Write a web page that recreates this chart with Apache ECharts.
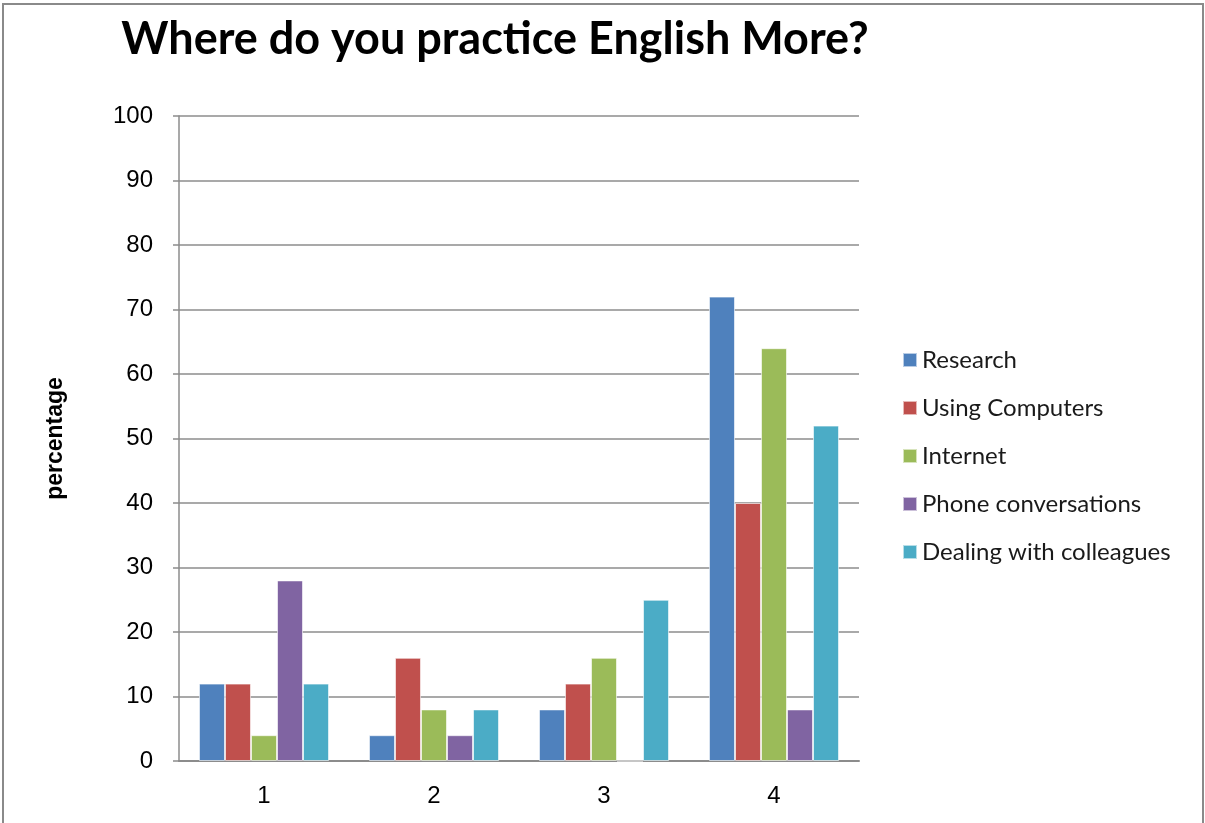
<!DOCTYPE html>
<html>
<head>
<meta charset="utf-8">
<style>
  html, body { margin: 0; padding: 0; background: #fff; }
  #chart { width: 1205px; height: 823px; }
</style>
<script src="https://cdn.jsdelivr.net/npm/echarts@6/dist/echarts.min.js"></script>
</head>
<body>
<div id="chart"></div>
<script>
// Survey groups and the share of answers (%) for each practice setting
const categories = ['1', '2', '3', '4'];
const research = [12, 4, 8, 72];
const usingComputers = [12, 16, 12, 40];
const internet = [4, 8, 16, 64];
const phoneConversations = [28, 4, 0, 8];
const dealingWithColleagues = [12, 8, 25, 52];
const yTicks = [0, 10, 20, 30, 40, 50, 60, 70, 80, 90, 100];

const seriesDefs = [
  { name: 'Research', data: research, color: '#4F81BD' },
  { name: 'Using Computers', data: usingComputers, color: '#C0504D' },
  { name: 'Internet', data: internet, color: '#9BBB59' },
  { name: 'Phone conversations', data: phoneConversations, color: '#8064A2' },
  { name: 'Dealing with colleagues', data: dealingWithColleagues, color: '#4BACC6' }
];

const chart = echarts.init(document.getElementById('chart'), null, { renderer: 'canvas' });

chart.setOption({
  backgroundColor: '#ffffff',
  animation: false,
  title: {
    text: 'Where do you practice English More?',
    left: 490,
    textAlign: 'center',
    top: 12,
    textStyle: {
      fontFamily: 'Lato',
      fontWeight: 'bold',
      fontSize: 45,
      color: '#000'
    }
  },
  graphic: [
    {
      type: 'rect',
      silent: true,
      shape: { x: 3, y: 4, width: 1200, height: 830 },
      style: { fill: 'none', stroke: '#8a8a8a', lineWidth: 2 }
    }
  ],
  legend: {
    orient: 'vertical',
    left: 897,
    top: 341,
    icon: 'rect',
    itemWidth: 14,
    itemHeight: 14,
    itemGap: 20,
    textStyle: {
      fontFamily: 'Lato',
      fontSize: 24,
      color: '#1a1a1a',
      lineHeight: 28,
      padding: [0, 0, 0, 0]
    },
    data: seriesDefs.map(s => s.name)
  },
  grid: {
    left: 179,
    right: 346,
    top: 116,
    bottom: 62,
    containLabel: false
  },
  xAxis: {
    type: 'category',
    data: categories,
    axisLine: { show: true, lineStyle: { color: '#8c8c8c', width: 2 } },
    axisTick: { show: false },
    axisLabel: {
      fontFamily: 'Liberation Sans',
      fontSize: 24,
      color: '#000',
      margin: 23
    },
    splitLine: { show: false }
  },
  yAxis: {
    type: 'value',
    min: yTicks[0],
    max: yTicks[yTicks.length - 1],
    interval: 10,
    name: 'percentage',
    nameLocation: 'middle',
    nameGap: 112,
    nameRotate: 90,
    nameTextStyle: {
      fontFamily: 'Liberation Sans',
      fontWeight: 'bold',
      fontSize: 23,
      color: '#000'
    },
    axisLine: { show: true, lineStyle: { color: '#8c8c8c', width: 1.5 } },
    axisTick: { show: true, length: 6, lineStyle: { color: '#8c8c8c', width: 1.5 } },
    axisLabel: {
      fontFamily: 'Liberation Sans',
      fontSize: 24,
      color: '#000',
      margin: 26
    },
    splitLine: { show: true, lineStyle: { color: '#8c8c8c', width: 1.5 } }
  },
  series: seriesDefs.map(s => ({
    name: s.name,
    type: 'bar',
    data: s.data,
    barGap: '0%',
    barCategoryGap: '23.5%',
    itemStyle: {
      color: s.color,
      borderColor: 'rgba(255,255,255,0.6)',
      borderWidth: 1
    }
  }))
});
</script>
</body>
</html>
